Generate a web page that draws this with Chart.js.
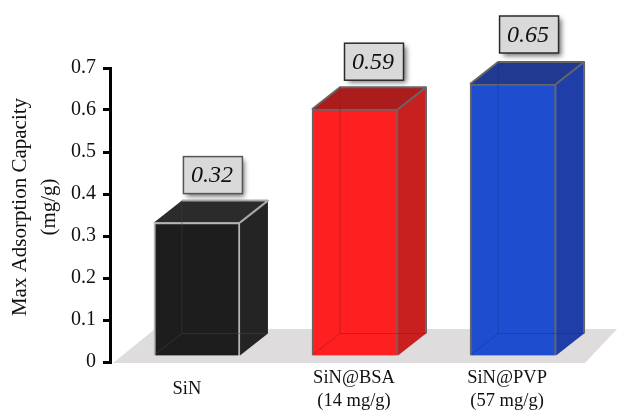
<!DOCTYPE html>
<html><head><meta charset="utf-8">
<style>html,body{margin:0;padding:0;background:#fff}#w{width:617px;height:411px;position:relative}</style>
<script src="https://cdn.jsdelivr.net/npm/chart.js@4/dist/chart.umd.min.js"></script>
</head><body><div id="w"><canvas id="c" width="617" height="411"></canvas></div>
<script>
const categories = [["SiN"], ["SiN@BSA", "(14 mg/g)"], ["SiN@PVP", "(57 mg/g)"]];
const values = [0.32, 0.59, 0.65];
const valueLabels = ["0.32", "0.59", "0.65"];
const axisTitle = ["Max Adsorption Capacity", "(mg/g)"];
const frontColors = ["#1d1d1d", "#fe2020", "#1f4dd0"];
const sideColors = ["#242424", "#c81f1f", "#1f3ea8"];
const topColors = ["#2b2b2b", "#ab1c1c", "#213a90"];
const edgeColors = ["#b4b4b4", "#666666", "#666666"];
const backEdgeColors = ["rgba(70,70,70,.45)", "rgba(150,20,20,.5)", "rgba(20,45,150,.5)"];

const SERIF = '"Liberation Serif","Times New Roman",serif';
const LIFT = 5, DX = 28, DY = 22;

const cube = {
  id: 'cube',
  beforeDatasetsDraw(chart) {
    const ctx = chart.ctx, a = chart.chartArea, meta = chart.getDatasetMeta(0);
    // floor
    ctx.save();
    ctx.fillStyle = '#dedcdd';
    ctx.beginPath();
    ctx.moveTo(a.left + 3, a.bottom + 1);
    ctx.lineTo(a.left + 45, a.bottom - 33);
    ctx.lineTo(617, a.bottom - 33);
    ctx.lineTo(585, a.bottom + 1);
    ctx.closePath();
    ctx.fill();
    ctx.lineJoin = 'round';
    meta.data.forEach((b, i) => {
      const l = b.x - b.width / 2, r = b.x + b.width / 2, t = b.y - LIFT, bt = b.base - LIFT;
      ctx.strokeStyle = '#666';
      if (i === 0) ctx.strokeStyle = '#a8a8a8';
      ctx.lineWidth = 2;
      ctx.fillStyle = sideColors[i];
      ctx.beginPath();
      ctx.moveTo(r, t); ctx.lineTo(r + DX, t - DY); ctx.lineTo(r + DX, bt - DY); ctx.lineTo(r, bt); ctx.closePath();
      ctx.fill();
      ctx.fillStyle = topColors[i];
      ctx.beginPath();
      ctx.moveTo(l, t); ctx.lineTo(l + DX, t - DY); ctx.lineTo(r + DX, t - DY); ctx.lineTo(r, t); ctx.closePath();
      ctx.fill();
      if (i === 0) {
        // the dark cube only shows a pale edge on its front-right corner and top-right edge
        ctx.beginPath();
        ctx.moveTo(r, t); ctx.lineTo(r + DX, t - DY); ctx.lineTo(l + DX, t - DY);
        ctx.stroke();
      } else {
        ctx.beginPath();
        ctx.moveTo(l, t); ctx.lineTo(l + DX, t - DY); ctx.lineTo(r + DX, t - DY); ctx.lineTo(r, t);
        ctx.moveTo(r + DX, t - DY); ctx.lineTo(r + DX, bt - DY);
        ctx.stroke();
      }
    });
    ctx.restore();
    ctx.save();
    ctx.translate(0, -LIFT);
  },
  afterDatasetsDraw(chart) {
    const ctx = chart.ctx, meta = chart.getDatasetMeta(0);
    ctx.restore();
    ctx.save();
    meta.data.forEach((b, i) => {
      const l = b.x - b.width / 2, r = b.x + b.width / 2, t = b.y - LIFT, bt = b.base - LIFT;
      // see-through back edges
      ctx.strokeStyle = backEdgeColors[i];
      ctx.lineWidth = 1;
      ctx.beginPath();
      ctx.moveTo(l + DX, t - DY); ctx.lineTo(l + DX, bt - DY); ctx.lineTo(l + 1, bt - 1);
      ctx.moveTo(l + DX, bt - DY); ctx.lineTo(r + DX, bt - DY);
      ctx.stroke();
      // value box
      const bw = 59, bh = 37, bx = b.x + 16 - bw / 2 + (i === 1 ? 3 : 0), by = t - 29 - bh - (i === 2 ? 2 : 0);
      ctx.save();
      ctx.shadowColor = 'rgba(0,0,0,.55)';
      ctx.shadowBlur = 5;
      ctx.shadowOffsetX = 3;
      ctx.shadowOffsetY = 3;
      ctx.fillStyle = '#d9d9d9';
      ctx.fillRect(bx, by, bw, bh);
      ctx.restore();
      ctx.strokeStyle = i === 0 ? '#555' : '#2a2a2a';
      ctx.lineWidth = 1.5;
      ctx.strokeRect(bx, by, bw, bh);
      ctx.fillStyle = '#111';
      ctx.font = 'italic 24px ' + SERIF;
      ctx.textAlign = 'center';
      ctx.textBaseline = 'middle';
      ctx.fillText(valueLabels[i], bx + bw / 2 - 1, by + bh / 2 + 1);
    });
    // axis title
    ctx.translate(20, 207);
    ctx.rotate(-Math.PI / 2);
    ctx.fillStyle = '#111';
    ctx.font = '21px ' + SERIF;
    ctx.textAlign = 'center';
    ctx.textBaseline = 'middle';
    ctx.fillText(axisTitle[0], 0, 0);
    ctx.fillText(axisTitle[1], 0, 29);
    ctx.restore();
  }
};

new Chart(document.getElementById('c'), {
  type: 'bar',
  data: {
    labels: categories,
    datasets: [{
      label: 'Max Adsorption Capacity (mg/g)',
      data: values,
      backgroundColor: frontColors,
      borderColor: edgeColors,
      borderWidth: 2,
      barThickness: 86
    }]
  },
  options: {
    responsive: false,
    animation: false,
    layout: { padding: { top: 68, right: 17, left: 0, bottom: 0 } },
    plugins: { legend: { display: false }, tooltip: { enabled: false } },
    scales: {
      x: {
        grid: { display: false, drawTicks: false },
        border: { display: false },
        ticks: { color: '#111', font: { family: SERIF, size: 18.5, lineHeight: 1.25 }, padding: 16, maxRotation: 0, autoSkip: false, crossAlign: 'center' },
        afterBuildTicks(s) { s._startValue = -0.55; s._valueRange = 3.1; },
        afterTickToLabelConversion(s) { const shift = [-10, -1, -6]; s.ticks.forEach((t, i) => { t.value = i + shift[i] / 158; }); },
        afterFit(s) { s.height = 49; }
      },
      y: {
        min: 0, max: 0.7,
        afterFit(s) { s.width = 110; },
        grid: { drawOnChartArea: false, drawTicks: true, tickLength: 7, color: '#000', lineWidth: 3 },
        border: { display: true, color: '#000', width: 3 },
        ticks: { stepSize: 0.1, color: '#111', padding: 7, font: { family: SERIF, size: 20 }, callback: v => v === 0 ? '0' : v.toFixed(1) }
      }
    }
  },
  plugins: [cube]
});
</script></body></html>
